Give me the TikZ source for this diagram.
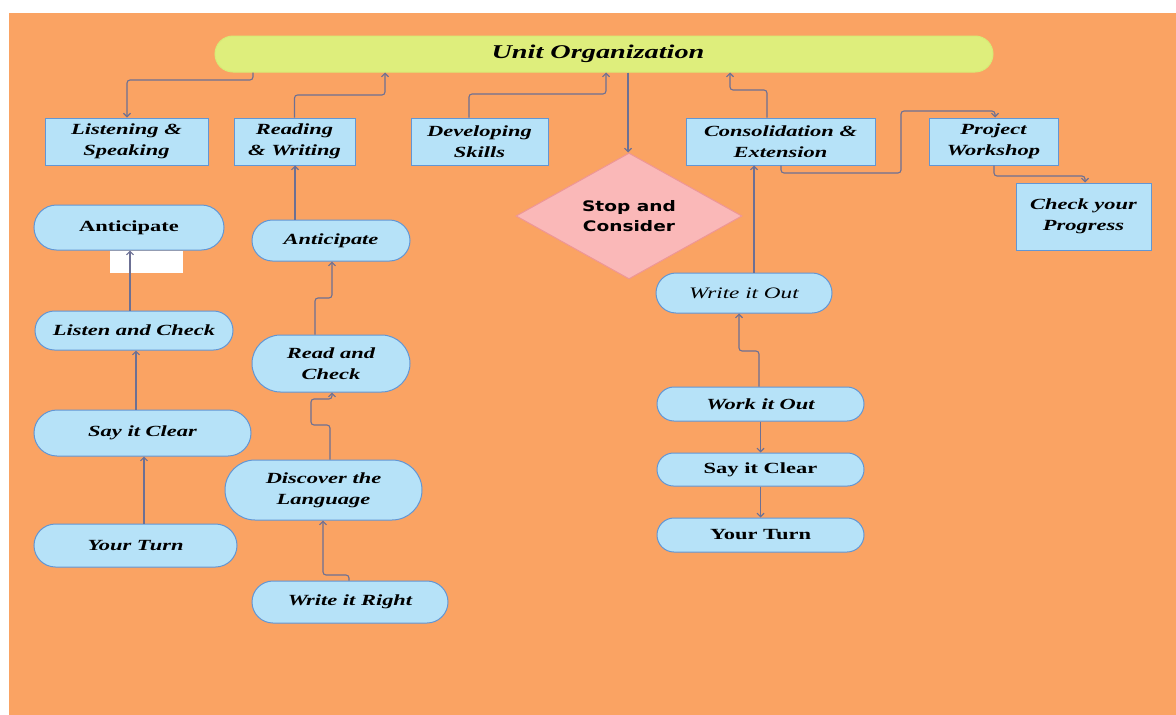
\documentclass[tikz,border=0pt]{standalone}
\usepackage{fontspec}
\setmainfont{Liberation Serif}[FakeStretch=1.45]
\newfontfamily\dsans{DejaVu Sans}[FakeStretch=1.28]
\usetikzlibrary{shapes.misc,shapes.geometric,arrows.meta}

\definecolor{pagebg}{RGB}{250,163,99}
\definecolor{boxfill}{RGB}{182,226,248}
\definecolor{boxline}{RGB}{98,150,212}
\definecolor{barfill}{RGB}{222,238,124}
\definecolor{barline}{RGB}{214,236,118}
\definecolor{stopfill}{RGB}{250,184,184}
\definecolor{stopline}{RGB}{238,150,150}
\definecolor{linec}{RGB}{108,112,148}

\tikzset{
  lbl/.style={font=\fontsize{15.5}{21}\selectfont\bfseries\itshape},
  lblup/.style={font=\fontsize{15.5}{21}\selectfont\bfseries},
  lblit/.style={font=\fontsize{16}{21}\selectfont\itshape},
  sect/.style={rectangle, draw=boxline, fill=boxfill, line width=1pt,
    inner sep=0pt, align=center, lbl},
  pill/.style={rounded rectangle, draw=boxline, fill=boxfill, line width=1pt,
    inner sep=0pt, align=center},
  topbar/.style={rounded rectangle, draw=barline, fill=barfill, line width=1pt,
    inner sep=0pt, minimum width=778pt, minimum height=36pt,
    font=\fontsize{19.5}{22}\selectfont\bfseries\itshape},
  stopbox/.style={diamond, draw=stopline, fill=stopfill, line width=1pt,
    inner sep=0pt, minimum width=226pt, minimum height=126pt, align=center,
    font=\dsans\fontsize{14.5}{20}\selectfont\bfseries},
  conn/.style={draw=linec, line width=1.1pt, rounded corners=3pt,
    -{Straight Barb[length=3.5pt,width=7pt]}}
}

\begin{document}
\begin{tikzpicture}[x=1pt,y=-1pt]
  % page and background
  \useasboundingbox (0,0) rectangle (1176,715);
  \fill[white] (0,0) rectangle (1176,715);
  \fill[pagebg] (9,13) rectangle (1176,715);

  % title bar
  \node[topbar] (uo) at (604,54) {\hspace*{-12pt}Unit Organization};

  % section boxes
  \node[sect, minimum width=163pt, minimum height=47pt] (lis) at (126.5,141.5) {Listening \&\\Speaking};
  \node[sect, minimum width=121pt, minimum height=47pt] (rw) at (294.5,141.5) {Reading\\\& Writing};
  \node[sect, minimum width=137pt, minimum height=47pt] (dev) at (479.5,141.5) {Developing\\Skills};
  \node[sect, minimum width=189pt, minimum height=47pt] (con) at (780.5,141.5) {Consolidation \&\\Extension};
  \node[sect, minimum width=129pt, minimum height=47pt] (proj) at (993.5,141.5) {Project\\Workshop};
  \node[sect, minimum width=135pt, minimum height=67pt] (chk) at (1083.5,216.5) {Check your\\Progress};

  % decision
  \node[stopbox] (stop) at (629,216) {Stop and\\Consider};

  % listening & speaking column
  \node[pill, lblup, minimum width=190pt, minimum height=45pt] (antL) at (129,227.5) {Anticipate};
  \fill[white] (110,251) rectangle (183,273);
  \node[pill, lbl, minimum width=198pt, minimum height=39pt] (lc) at (134,330.5) {Listen and Check};
  \node[pill, lbl, minimum width=217pt, minimum height=46pt] (scL) at (142.5,433) {Say it Clear};
  \node[pill, lbl, minimum width=203pt, minimum height=43pt] (ytL) at (135.5,545.5) {Your Turn};

  % reading & writing column
  \node[pill, lbl, minimum width=158pt, minimum height=41pt] (antM) at (331,240.5) {Anticipate};
  \node[pill, lbl, minimum width=158pt, minimum height=57pt] (rc) at (331,363.5) {Read and\\Check};
  \node[pill, lbl, minimum width=197pt, minimum height=60pt] (dl) at (323.5,490) {Discover the\\Language};
  \node[pill, lbl, minimum width=196pt, minimum height=42pt] (wr) at (350,602) {Write it Right};

  % consolidation column
  \node[pill, lblit, minimum width=176pt, minimum height=40pt] (wo) at (744,293) {Write it Out};
  \node[pill, lbl, minimum width=207pt, minimum height=34pt] (wk) at (760.5,404) {Work it Out};
  \node[pill, lblup, minimum width=207pt, minimum height=33pt] (scR) at (760.5,469.5) {Say it Clear};
  \node[pill, lblup, minimum width=207pt, minimum height=34pt] (ytR) at (760.5,535) {Your Turn};

  % links to and from the title bar
  \draw[conn] (uo.south -| 253,0) |- (127,80) -- (lis.north -| 127,0);
  \draw[conn] (rw.north) |- (385,95) -- (uo.south -| 385,0);
  \draw[conn] (dev.north -| 469,0) |- (606,94) -- (uo.south -| 606,0);
  \draw[conn] (uo.south -| 628,0) -- (stop.north -| 628,0);
  \draw[conn] (con.north -| 767,0) |- (730,90) -- (uo.south -| 730,0);

  % links between the section boxes
  \draw[conn] (con.south -| 781,0) |- (901,173) |- (995,111) -- (proj.north -| 995,0);
  \draw[conn] (proj.south -| 994,0) |- (1085,176) -- (chk.north -| 1085,0);

  % listening & speaking chain
  \draw[conn] (lc.north -| 130,0) -- (antL.south -| 130,0);
  \draw[conn] (scL.north -| 136,0) -- (lc.south -| 136,0);
  \draw[conn] (ytL.north -| 144,0) -- (scL.south -| 144,0);

  % reading & writing chain
  \draw[conn] (antM.north -| 295,0) -- (rw.south -| 295,0);
  \draw[conn] (rc.north -| 315,0) |- (332,298) -- (antM.south -| 332,0);
  \draw[conn] (dl.north -| 330,0) |- (311,425) |- (332,399) -- (rc.south -| 332,0);
  \draw[conn] (wr.north -| 349,0) |- (323,575) -- (dl.south -| 323,0);

  % consolidation chain
  \draw[conn] (wo.north -| 754,0) -- (con.south -| 754,0);
  \draw[conn] (wk.north -| 759,0) |- (739,351) -- (wo.south -| 739,0);
  \draw[conn] (wk.south) -- (scR.north);
  \draw[conn] (scR.south) -- (ytR.north);
\end{tikzpicture}
\end{document}
